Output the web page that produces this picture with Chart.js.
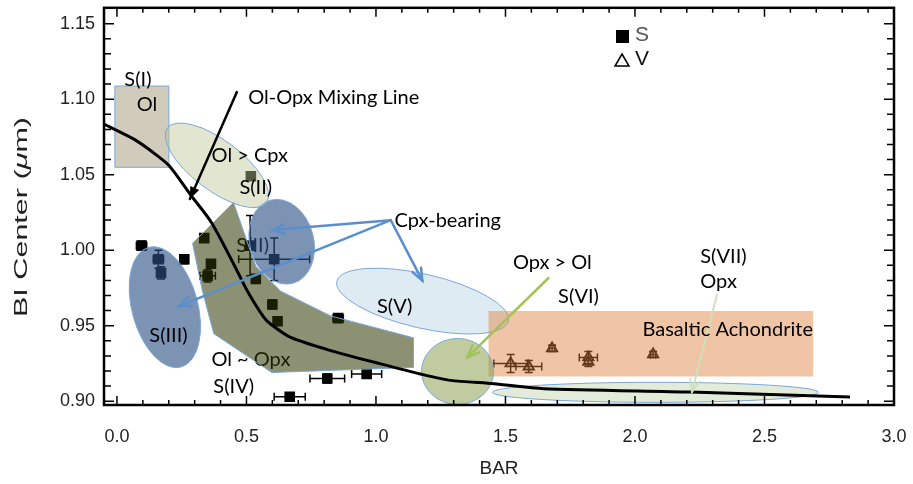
<!DOCTYPE html>
<html>
<head>
<meta charset="utf-8">
<script src="https://cdn.jsdelivr.net/npm/chart.js@4.4.0/dist/chart.umd.min.js"></script>
<style>
  html, body { margin: 0; padding: 0; background: #fff; }
</style>
</head>
<body>
<canvas id="bandChart" width="913" height="484"></canvas>
<script>
// S-type points (BAR, Band I center) with error bars
const sBar       = [0.095, 0.16, 0.17, 0.26, 0.337, 0.363, 0.35, 0.517, 0.514, 0.607, 0.536, 0.60, 0.62, 0.854, 0.812, 0.964, 0.667];
const sCenter    = [1.003, 0.994, 0.985, 0.994, 1.008, 0.991, 0.983, 1.049, 1.003, 0.994, 0.981, 0.964, 0.953, 0.955, 0.915, 0.918, 0.903];
const sBarErr    = [0.02, 0.02, 0.01, 0.01, 0.01, 0.01, 0.03, 0, 0, 0.137, 0, 0, 0, 0.02, 0.067, 0.058, 0.06];
const sCenterErr = [0.003, 0.006, 0.004, 0.003, 0.002, 0, 0.004, 0, 0.02, 0.014, 0, 0.003, 0, 0, 0.003, 0.002, 0];

// V-type points
const vBar       = [1.52, 1.59, 1.68, 1.82, 1.82, 2.07];
const vCenter    = [0.925, 0.923, 0.935, 0.929, 0.926, 0.931];
const vBarErr    = [0.065, 0.05, 0.01, 0.035, 0, 0.01];
const vCenterErr = [0.006, 0.004, 0.002, 0.004, 0.003, 0.002];

// Ol-Opx mixing line
const mixBar    = [-0.05, 0.067, 0.131, 0.20, 0.285, 0.363, 0.452, 0.504, 0.568, 0.594, 0.671, 0.825, 1.018, 1.172, 1.288, 1.455, 1.648, 2.214, 2.83];
const mixCenter = [1.0835, 1.0734, 1.0658, 1.0562, 1.0365, 1.0188, 0.9904, 0.9728, 0.9553, 0.951, 0.9422, 0.9335, 0.9247, 0.918, 0.9138, 0.9116, 0.9083, 0.9061, 0.9028];

const xTicks = [0.0, 0.5, 1.0, 1.5, 2.0, 2.5, 3.0];
const yTicks = [0.90, 0.95, 1.00, 1.05, 1.10, 1.15];

// region shapes, in data units (ellipse radii in px)
const regions = [
  { type: 'rect', x0: -0.008, x1: 0.2005, y0: 1.0549, y1: 1.1087, fill: 'rgba(170,160,130,0.55)', stroke: '#7aa7dc' },
  { type: 'ellipse', x: 0.636, y: 1.0056, rx: 32, ry: 43, rot: -15, fill: 'rgba(45,81,134,0.62)', stroke: '#7aa7dc' },
  { type: 'ellipse', x: 0.185, y: 0.9623, rx: 33, ry: 62, rot: -15, fill: 'rgba(45,81,134,0.62)', stroke: '#7aa7dc' },
  { type: 'ellipse', x: 0.386, y: 1.0562, rx: 62, ry: 25, rot: 37, fill: 'rgba(190,198,150,0.45)', stroke: '#7aa7dc' },
  { type: 'poly', pts: [[0.450,1.0315],[0.536,0.9893],[0.632,0.9729],[0.825,0.9565],[1.145,0.9420],[1.145,0.9224],[0.598,0.9190],[0.374,0.9447],[0.330,0.9729],[0.292,1.0046]],
    fill: 'rgba(45,55,0,0.55)', stroke: '#7aa7dc' },
  { type: 'ellipse', x: 1.180, y: 0.9663, rx: 88, ry: 27, rot: 13, fill: 'rgba(190,215,232,0.5)', stroke: '#7aa7dc' },
  { type: 'rect', x0: 1.4346, x1: 2.688, y0: 0.9164, y1: 0.9597, fill: 'rgba(222,127,56,0.45)', stroke: null },
  { type: 'ellipse', x: 1.315, y: 0.9197, rx: 36, ry: 33, rot: 0, fill: 'rgba(140,160,80,0.55)', stroke: '#7aa7dc' },
  { type: 'ellipse', x: 2.079, y: 0.9059, rx: 163, ry: 10, rot: 0, fill: 'rgba(200,215,180,0.5)', stroke: '#7aa7dc' }
];

const arrows = [
  { from: [0.463, 1.1047], to: [0.2815, 1.0339], color: '#000', width: 2.5, head: 'fill' },
  { from: [1.057, 1.0199], to: [0.6005, 1.0133], color: '#5b8fcb', width: 2.5, head: 'open' },
  { from: [1.057, 1.0199], to: [0.240, 0.963], color: '#5b8fcb', width: 2.5, head: 'open' },
  { from: [1.057, 1.0199], to: [1.179, 0.9799], color: '#5b8fcb', width: 2.5, head: 'open' },
  { from: [1.666, 0.9816], to: [1.3525, 0.9291], color: '#a3c35a', width: 2.5, head: 'open' },
  { from: [2.3166, 0.9707], to: [2.220, 0.9061], color: '#cfe0bc', width: 2, head: 'open' }
];

// labels under the overlays
const lowLabels = [
  { t: 'S(II)', x: 0.524, y: 1.003, align: 'center' },
  { t: 'Ol ~ Opx', x: 0.517, y: 0.9276, align: 'center' }
];
const labels = [
  { t: 'S(I)', x: 0.081, y: 1.1133, align: 'center' },
  { t: 'Ol', x: 0.116, y: 1.0962, align: 'center' },
  { t: 'Ol-Opx Mixing Line', x: 0.837, y: 1.1014, align: 'center' },
  { t: 'Ol > Cpx', x: 0.513, y: 1.0627, align: 'center' },
  { t: 'S(II)', x: 0.536, y: 1.0417, align: 'center' },
  { t: 'Cpx-bearing', x: 1.277, y: 1.0194, align: 'center' },
  { t: 'S(V)', x: 1.072, y: 0.963, align: 'center' },
  { t: 'S(III)', x: 0.199, y: 0.9433, align: 'center' },
  { t: 'S(IV)', x: 0.451, y: 0.9098, align: 'center' },
  { t: 'Opx > Ol', x: 1.681, y: 0.9919, align: 'center' },
  { t: 'S(VI)', x: 1.782, y: 0.9696, align: 'center' },
  { t: 'S(VII)', x: 2.252, y: 0.9958, align: 'left' },
  { t: 'Opx', x: 2.252, y: 0.9794, align: 'left' },
  { t: 'Basaltic Achondrite', x: 2.358, y: 0.9472, align: 'center' }
];

const LABEL_FONT = '20px Lato';

function toPx(chart, x, y) {
  return [chart.scales.x.getPixelForValue(x), chart.scales.y.getPixelForValue(y)];
}

function drawLabels(chart, list) {
  const ctx = chart.ctx;
  ctx.save();
  ctx.font = LABEL_FONT;
  ctx.fillStyle = '#000';
  ctx.textBaseline = 'middle';
  list.forEach(l => {
    const p = toPx(chart, l.x, l.y);
    ctx.textAlign = l.align;
    ctx.fillText(l.t, p[0], p[1]);
  });
  ctx.restore();
}

function drawErrBars(chart, xs, ys, exs, eys) {
  const ctx = chart.ctx;
  const cap = 4;
  ctx.save();
  ctx.strokeStyle = '#000';
  ctx.lineWidth = 1.5;
  for (let i = 0; i < xs.length; i++) {
    const c = toPx(chart, xs[i], ys[i]);
    if (exs[i] > 0) {
      const a = chart.scales.x.getPixelForValue(xs[i] - exs[i]);
      const b = chart.scales.x.getPixelForValue(xs[i] + exs[i]);
      ctx.beginPath();
      ctx.moveTo(a, c[1]); ctx.lineTo(b, c[1]);
      ctx.moveTo(a, c[1] - cap); ctx.lineTo(a, c[1] + cap);
      ctx.moveTo(b, c[1] - cap); ctx.lineTo(b, c[1] + cap);
      ctx.stroke();
    }
    if (eys[i] > 0) {
      const a = chart.scales.y.getPixelForValue(ys[i] - eys[i]);
      const b = chart.scales.y.getPixelForValue(ys[i] + eys[i]);
      ctx.beginPath();
      ctx.moveTo(c[0], a); ctx.lineTo(c[0], b);
      ctx.moveTo(c[0] - cap, a); ctx.lineTo(c[0] + cap, a);
      ctx.moveTo(c[0] - cap, b); ctx.lineTo(c[0] + cap, b);
      ctx.stroke();
    }
  }
  ctx.restore();
}

function drawRegions(chart) {
  const ctx = chart.ctx;
  ctx.save();
  regions.forEach(r => {
    ctx.beginPath();
    if (r.type === 'rect') {
      const a = toPx(chart, r.x0, r.y1), b = toPx(chart, r.x1, r.y0);
      ctx.rect(a[0], a[1], b[0] - a[0], b[1] - a[1]);
    } else if (r.type === 'ellipse') {
      const c = toPx(chart, r.x, r.y);
      ctx.ellipse(c[0], c[1], r.rx, r.ry, r.rot * Math.PI / 180, 0, Math.PI * 2);
    } else {
      r.pts.forEach((q, i) => {
        const p = toPx(chart, q[0], q[1]);
        if (i === 0) ctx.moveTo(p[0], p[1]); else ctx.lineTo(p[0], p[1]);
      });
      ctx.closePath();
    }
    ctx.fillStyle = r.fill;
    ctx.fill();
    if (r.stroke) {
      ctx.strokeStyle = r.stroke;
      ctx.lineWidth = 1;
      ctx.stroke();
    }
  });
  ctx.restore();
}

function drawArrows(chart) {
  const ctx = chart.ctx;
  ctx.save();
  arrows.forEach(a => {
    const p0 = toPx(chart, a.from[0], a.from[1]);
    const p1 = toPx(chart, a.to[0], a.to[1]);
    const ang = Math.atan2(p1[1] - p0[1], p1[0] - p0[0]);
    const len = 13, spread = 0.38;
    ctx.strokeStyle = a.color;
    ctx.fillStyle = a.color;
    ctx.lineWidth = a.width;
    ctx.lineCap = 'round';
    ctx.beginPath();
    ctx.moveTo(p0[0], p0[1]);
    ctx.lineTo(p1[0], p1[1]);
    ctx.stroke();
    const h1 = [p1[0] - len * Math.cos(ang - spread), p1[1] - len * Math.sin(ang - spread)];
    const h2 = [p1[0] - len * Math.cos(ang + spread), p1[1] - len * Math.sin(ang + spread)];
    ctx.beginPath();
    if (a.head === 'fill') {
      ctx.moveTo(p1[0], p1[1]); ctx.lineTo(h1[0], h1[1]); ctx.lineTo(h2[0], h2[1]); ctx.closePath();
      ctx.fill();
    } else {
      ctx.moveTo(h1[0], h1[1]); ctx.lineTo(p1[0], p1[1]); ctx.lineTo(h2[0], h2[1]);
      ctx.stroke();
    }
  });
  ctx.restore();
}

function drawFrame(chart) {
  const ctx = chart.ctx;
  const a = chart.chartArea;
  ctx.save();
  ctx.strokeStyle = '#000';
  ctx.lineWidth = 1.5;
  ctx.beginPath();
  // x ticks every 0.1, longer every 0.5
  for (let k = 0; k <= 30; k++) {
    const v = k / 10;
    const px = chart.scales.x.getPixelForValue(v);
    const L = (k % 5 === 0) ? 9 : 5;
    ctx.moveTo(px, a.bottom); ctx.lineTo(px, a.bottom - L);
    ctx.moveTo(px, a.top); ctx.lineTo(px, a.top + L);
  }
  // y ticks every 0.01
  for (let k = 90; k <= 116; k++) {
    const v = k / 100;
    const py = chart.scales.y.getPixelForValue(v);
    if (py < a.top + 1 || py > a.bottom - 1) continue;
    const L = (k % 5 === 0) ? 10 : 7;
    ctx.moveTo(a.left, py); ctx.lineTo(a.left + L, py);
    ctx.moveTo(a.right, py); ctx.lineTo(a.right - L, py);
  }
  ctx.stroke();
  ctx.lineWidth = 2.5;
  ctx.strokeRect(a.left, a.top, a.right - a.left, a.bottom - a.top);

  // legend
  ctx.fillStyle = '#000';
  ctx.fillRect(616, 30, 13, 13);
  ctx.lineWidth = 1.5;
  ctx.beginPath();
  ctx.moveTo(622, 54); ctx.lineTo(629, 66); ctx.lineTo(615, 66); ctx.closePath();
  ctx.stroke();
  ctx.font = '21px "Liberation Sans"';
  ctx.textBaseline = 'middle';
  ctx.textAlign = 'left';
  ctx.fillStyle = '#555';
  ctx.fillText('S', 635, 35);
  ctx.fillStyle = '#111';
  ctx.fillText('V', 635, 59);

  // axis titles
  ctx.fillStyle = '#222';
  ctx.font = '19px "Liberation Sans"';
  ctx.textAlign = 'center';
  ctx.fillText('BAR', (a.left + a.right) / 2, 469);

  ctx.translate(22, 217);
  ctx.rotate(-Math.PI / 2);
  const p1 = 'BI Center (', p2 = 'μ', p3 = 'm)';
  ctx.font = '19px "Liberation Sans"';
  const w1 = ctx.measureText(p1).width, w3 = ctx.measureText(p3).width;
  ctx.font = 'italic 19px "Liberation Sans"';
  const w2 = ctx.measureText(p2).width;
  const tot = w1 + w2 + w3;
  ctx.scale(200 / tot, 1);
  ctx.textAlign = 'left';
  let xx = -tot / 2;
  ctx.font = '19px "Liberation Sans"';
  ctx.fillText(p1, xx, 0); xx += w1;
  ctx.font = 'italic 19px "Liberation Sans"';
  ctx.fillText(p2, xx, 0); xx += w2;
  ctx.font = '19px "Liberation Sans"';
  ctx.fillText(p3, xx, 0);
  ctx.restore();
}

const overlayPlugin = {
  id: 'overlay',
  beforeDatasetsDraw(chart) {
    drawLabels(chart, lowLabels);
    drawErrBars(chart, sBar, sCenter, sBarErr, sCenterErr);
    drawErrBars(chart, vBar, vCenter, vBarErr, vCenterErr);
  },
  afterDatasetDraw(chart, args) {
    // regions go above the points, below the mixing line
    if (args.index === 1) drawRegions(chart);
  },
  afterDatasetsDraw(chart) {
    drawArrows(chart);
    drawLabels(chart, labels);
    drawFrame(chart);
  }
};

const ctx = document.getElementById('bandChart').getContext('2d');
new Chart(ctx, {
  type: 'scatter',
  data: {
    datasets: [
      {
        label: 'Ol-Opx Mixing Line',
        type: 'line',
        data: mixBar.map((x, i) => ({ x: x, y: mixCenter[i] })),
        borderColor: '#000',
        borderWidth: 3,
        pointRadius: 0,
        fill: false,
        tension: 0.25
      },
      {
        label: 'S',
        data: sBar.map((x, i) => ({ x: x, y: sCenter[i] })),
        pointStyle: 'rect',
        pointRadius: 7.5,
        backgroundColor: '#000',
        borderColor: '#000',
        borderWidth: 0
      },
      {
        label: 'V',
        data: vBar.map((x, i) => ({ x: x, y: vCenter[i] })),
        pointStyle: 'triangle',
        pointRadius: 6,
        backgroundColor: 'rgba(0,0,0,0)',
        borderColor: '#000',
        borderWidth: 1.8
      }
    ]
  },
  options: {
    responsive: false,
    animation: false,
    layout: { padding: { top: 4, right: 19, left: 0, bottom: 0 } },
    plugins: { legend: { display: false }, tooltip: { enabled: false } },
    scales: {
      x: {
        type: 'linear',
        min: -0.05,
        max: 3.0,
        afterBuildTicks: s => { s.ticks = xTicks.map(v => ({ value: v })); },
        afterFit: s => { s.height = 79; s.paddingLeft = 0; s.paddingRight = 0; },
        grid: { display: false, drawTicks: false },
        border: { display: false },
        ticks: {
          autoSkip: false,
          padding: 21,
          color: '#222',
          font: { family: 'Liberation Sans', size: 18 },
          callback: v => Number(v).toFixed(1)
        }
      },
      y: {
        type: 'linear',
        min: 0.8975,
        max: 1.1605,
        afterBuildTicks: s => { s.ticks = yTicks.map(v => ({ value: v })); },
        afterFit: s => { s.width = 104; s.paddingTop = 0; s.paddingBottom = 0; },
        grid: { display: false, drawTicks: false },
        border: { display: false },
        ticks: {
          autoSkip: false,
          padding: 9,
          color: '#222',
          font: { family: 'Liberation Sans', size: 18 },
          callback: v => Number(v).toFixed(2)
        }
      }
    }
  },
  plugins: [overlayPlugin]
});
</script>
</body>
</html>
